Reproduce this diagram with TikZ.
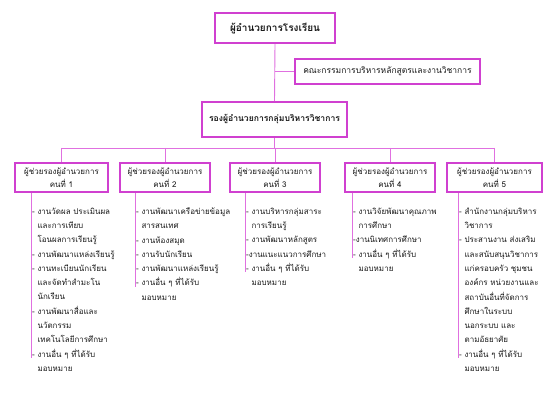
\documentclass[tikz,border=0pt]{standalone}
\usepackage{fontspec}
\newfontfamily\thai[Script=Thai]{Loma}
\definecolor{boxc}{RGB}{208,64,208}
\definecolor{linec}{RGB}{224,112,224}
\definecolor{txt}{RGB}{25,25,25}
\begin{document}
\begin{tikzpicture}[x=1pt,y=-1pt,
  box/.style={draw=boxc, line width=1.6pt, fill=white, inner sep=0pt, align=center, text=txt},
  conn/.style={draw=linec, line width=0.9pt},
  items/.style={anchor=north west, inner sep=0pt, align=left, text=txt, font=\thai\fontsize{8}{14.3}\selectfont}]
\useasboundingbox (0,0) rectangle (548,411);
\fill[white] (0,0) rectangle (548,411);
% main boxes
\node[box, minimum width=120pt, minimum height=30pt, font=\thai\bfseries\fontsize{10}{11}\selectfont] (top) at (275,28) {ผู้อำนวยการโรงเรียน};
\node[box, minimum width=185pt, minimum height=25pt, font=\thai\fontsize{8.5}{10}\selectfont] (com) at (387.5,71.5) {คณะกรรมการบริหารหลักสูตรและงานวิชาการ};
\node[box, minimum width=145pt, minimum height=35pt, font=\thai\bfseries\fontsize{8.6}{11}\selectfont] (dep) at (274.5,119.5) {รองผู้อำนวยการกลุ่มบริหารวิชาการ};
% assistant boxes
\tikzset{abox/.style={box, minimum width=#1, minimum height=29pt, font=\thai\fontsize{8}{12.5}\selectfont}}
\node[abox=93pt] (a1) at (61.5,177.5) {ผู้ช่วยรองผู้อำนวยการ\\คนที่ 1};
\node[abox=90pt] (a2) at (165,177.5) {ผู้ช่วยรองผู้อำนวยการ\\คนที่ 2};
\node[abox=90pt] (a3) at (275,177.5) {ผู้ช่วยรองผู้อำนวยการ\\คนที่ 3};
\node[abox=90pt] (a4) at (390,177.5) {ผู้ช่วยรองผู้อำนวยการ\\คนที่ 4};
\node[abox=95pt] (a5) at (494.5,177.5) {ผู้ช่วยรองผู้อำนวยการ\\คนที่ 5};
% connectors
\coordinate (bus) at (274.5,148);
\draw[conn] (top.south) -- (dep.north);
\draw[conn] (top.south |- com.west) -- (com.west);
\draw[conn] (dep.south) -- (bus);
\draw[conn] (a1.north |- bus) -- (a5.north |- bus);
\foreach \n in {a1,a2,a3,a4,a5} \draw[conn] (\n.north |- bus) -- (\n.north);
% item lists
\coordinate (e1) at (31,358);
\coordinate (e2) at (135,287);
\coordinate (e3) at (245,272);
\coordinate (e4) at (352,258);
\coordinate (e5) at (458,358);
\draw[conn] (a1.south -| e1) -- (e1);
\draw[conn] (a2.south -| e2) -- (e2);
\draw[conn] (a3.south -| e3) -- (e3);
\draw[conn] (a4.south -| e4) -- (e4);
\draw[conn] (a5.south -| e5) -- (e5);
\newcommand\ind{\hphantom{- }}
\node[items] (l1) at (32,207.5) {- งานวัดผล ประเมินผล\\\ind และการเทียบ\\\ind โอนผลการเรียนรู้\\- งานพัฒนาแหล่งเรียนรู้\\- งานทะเบียนนักเรียน\\\ind และจัดทำสำมะโน\\\ind นักเรียน\\- งานพัฒนาสื่อและ\\\ind นวัตกรรม\\\ind เทคโนโลยีการศึกษา\\- งานอื่น ๆ ที่ได้รับ\\\ind มอบหมาย};
\node[items] (l2) at (136,207.5) {- งานพัฒนาเครือข่ายข้อมูล\\\ind สารสนเทศ\\- งานห้องสมุด\\- งานรับนักเรียน\\- งานพัฒนาแหล่งเรียนรู้\\- งานอื่น ๆ ที่ได้รับ\\\ind มอบหมาย};
\node[items] (l3) at (246,207.5) {- งานบริหารกลุ่มสาระ\\\ind การเรียนรู้\\- งานพัฒนาหลักสูตร\\-งานแนะแนวการศึกษา\\- งานอื่น ๆ ที่ได้รับ\\\ind มอบหมาย};
\node[items] (l4) at (353,207.5) {- งานวิจัยพัฒนาคุณภาพ\\\ind การศึกษา\\-งานนิเทศการศึกษา\\- งานอื่น ๆ ที่ได้รับ\\\ind มอบหมาย};
\node[items] (l5) at (459,207.5) {- สำนักงานกลุ่มบริหาร\\\ind วิชาการ\\- ประสานงาน ส่งเสริม\\\ind และสนับสนุนวิชาการ\\\ind แก่ครอบครัว ชุมชน\\\ind องค์กร หน่วยงานและ\\\ind สถาบันอื่นที่จัดการ\\\ind ศึกษาในระบบ\\\ind นอกระบบ และ\\\ind ตามอัธยาศัย\\- งานอื่น ๆ ที่ได้รับ\\\ind มอบหมาย};
\end{tikzpicture}
\end{document}
